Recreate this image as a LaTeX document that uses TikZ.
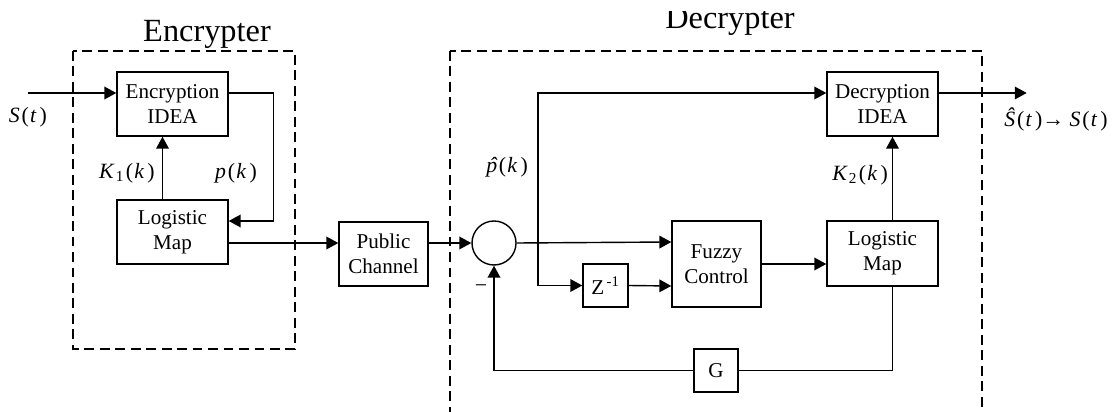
\documentclass[tikz,border=0pt]{standalone}
\usepackage{fontspec}
\setmainfont{Liberation Serif}
\usetikzlibrary{arrows.meta,calc}

% f(x) with the wide spacing of the original labels
\newcommand{\argof}[2]{#1\kern0.08em(\kern0.06em\textit{#2}\kern0.14em)}

\tikzset{
  blk/.style={draw,line width=1pt,align=center,inner sep=1pt,
    font=\fontsize{15}{18}\selectfont},
  sumnode/.style={draw,circle,line width=1pt,minimum size=1.1cm,inner sep=0pt},
  lbl/.style={font=\fontsize{15.5}{18}\selectfont,inner sep=1pt},
  ttl/.style={font=\fontsize{23}{27}\selectfont,inner sep=0pt},
  region/.style={line width=1pt,dash pattern=on 7pt off 4pt}
}

\begin{document}
\begin{tikzpicture}[x=0.025cm,y=-0.025cm,line width=1pt,
  >={Triangle[length=8.5pt,width=9pt]}]
  \useasboundingbox (0,0) rectangle (1116,412);
  % dashed regions
  \draw[region] (73,51) rectangle (295,349);
  \draw[region] (450,51) rectangle (982,450);
  \node[ttl,anchor=base] (enctitle) at (207,42) {Encrypter};
  \begin{scope}
    \clip (600,12) rectangle (860,50);
    \node[ttl,anchor=base] (dectitle) at (730,29) {Decrypter};
  \end{scope}
  % encrypter
  \node[blk,minimum width=2.775cm,minimum height=1.6cm] (enc) at (172.5,104) {Encryption\\IDEA};
  \node[blk,minimum width=2.775cm,minimum height=1.6cm] (logl) at (172.5,232) {Logistic\\Map};
  \node[blk,minimum width=2.225cm,minimum height=1.6cm] (pub) at (383.5,254) {Public\\Channel};
  % decrypter
  \node[sumnode] (sum) at (494,243) {};
  \node[blk,minimum width=1.125cm,minimum height=1.075cm] (zinv) at (605.5,285.5) {Z\textsuperscript{\,-1}};
  \node[blk,minimum width=2.225cm,minimum height=2.15cm] (fuz) at (716.5,264) {Fuzzy\\Control};
  \node[blk,minimum width=2.775cm,minimum height=1.625cm] (logr) at (882.5,253.5) {Logistic\\Map};
  \node[blk,minimum width=2.775cm,minimum height=1.6cm] (dec) at (882.5,104) {Decryption\\IDEA};
  \node[blk,minimum width=1.1cm,minimum height=1.075cm] (gain) at (716,370.5) {G};
  % labels
  \node[lbl] (slab) at (28,117) {\argof{\textit{S}}{t}};
  \node[lbl] (k1lab) at (127,173) {\argof{\textit{K}\kern0.05em\textsubscript{1}}{k}};
  \node[lbl] (plab) at (236,173) {\argof{\textit{p}}{k}};
  \node[lbl] (phlab) at (507,167) {\argof{\textit{\rlap{\hspace{0.14em}ˆ}p}}{k}};
  \node[lbl] (k2lab) at (860,175) {\argof{\textit{K}\kern0.05em\textsubscript{2}}{k}};
  \node[lbl] (outlab) at (1056,119) {\argof{\textit{\^{S}}}{t}→ \argof{\textit{S}}{t}};
  \node[lbl] (minus) at (481,289) {−};
  % connectors
  \coordinate (sin) at (28,93);
  \draw[->] (sin) -- (sin -| enc.west);
  \draw[->] ($(logl.north)+(-10,0)$) -- ($(enc.south)+(-10,0)$);
  \draw[->] (enc.east |- sin) -- ++(45,0) |- ($(logl.east)+(0,-11)$);
  \draw[->] ($(logl.east)+(0,11)$) -- ($(pub.west)+(0,-11)$);
  \draw[->] ($(pub.east)+(0,-11)$) -- (sum.west);
  \draw[->] (sum.east) -- ($(fuz.west)+(0,-22)$);
  \coordinate (jn) at (538,243);
  \draw[->] (jn) |- ($(dec.west)+(0,-11)$);
  \draw[->] (jn) |- (zinv.west);
  \draw[->] (zinv.east) -- ($(fuz.west)+(0,22)$);
  \draw[->] (fuz.east) -- (fuz.east -| logr.west);
  \draw[->] ($(logr.north)+(10,0)$) -- ($(dec.south)+(10,0)$);
  \draw ($(logr.south)+(10,0)$) |- (gain.east);
  \draw[->] (gain.west) -| (sum.south);
  \draw[->] ($(dec.east)+(0,-11)$) -- ++(88,0);
\end{tikzpicture}
\end{document}
